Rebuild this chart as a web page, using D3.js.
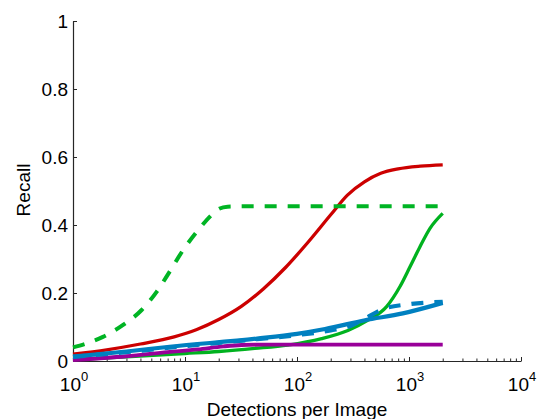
<!DOCTYPE html>
<html>
<head>
<meta charset="utf-8">
<script src="https://cdn.jsdelivr.net/npm/d3@7"></script>
<style>
  html, body { margin: 0; padding: 0; background: #fff; }
  svg { display: block; font-family: "Liberation Sans", Arial, Helvetica, sans-serif; }
</style>
</head>
<body>
<svg id="chart" width="538" height="419"></svg>
<script>
// Recall vs. detections per image, one array of [detections, recall] per method
const redSolid = [[1,0.02],[2,0.033],[4,0.05],[8,0.071],[12.6,0.092],[20,0.122],[31.6,0.16],[50,0.212],[79,0.275],[126,0.35],[200,0.43],[282,0.488],[400,0.527],[560,0.552],[800,0.565],[1260,0.573],[2000,0.577]];
const greenDashed = [[1,0.04],[1.5,0.058],[1.85,0.071],[2.8,0.106],[4.1,0.15],[5.6,0.204],[7.3,0.263],[9.6,0.326],[13.1,0.385],[17.3,0.43],[19.5,0.445],[24,0.454],[40,0.455],[2000,0.455]];
const greenSolid = [[1,0.004],[3,0.012],[10,0.022],[20,0.028],[42,0.037],[83,0.047],[166,0.066],[285,0.09],[431,0.12],[631,0.16],[831,0.219],[1021,0.277],[1253,0.336],[1540,0.39],[2000,0.434]];
const purpleSolid = [[1,0.003],[3,0.014],[7,0.026],[13,0.034],[22,0.043],[32,0.047],[50,0.048],[2000,0.048]];
const blueDashed = [[1,0.012],[3,0.026],[10,0.044],[44,0.064],[100,0.076],[200,0.09],[300,0.103],[400,0.124],[600,0.154],[1000,0.167],[2000,0.174]];
const blueSolid = [[1,0.013],[3,0.028],[7.3,0.042],[44,0.066],[100,0.08],[178,0.094],[405,0.12],[880,0.14],[2000,0.171]];

const xTickValues = [1, 10, 100, 1000, 10000];
const xTickExponents = ["0", "1", "2", "3", "4"];
const yTickValues = [0, 0.2, 0.4, 0.6, 0.8, 1];
const yTickLabels = ["0", "0.2", "0.4", "0.6", "0.8", "1"];

const svg = d3.select("#chart");
const x = d3.scaleLog().domain([1, 10000]).range([73, 521]);
const y = d3.scaleLinear().domain([0, 1]).range([361, 21]);

const axisColor = "#262626";

// minor log ticks: 2..9 within each decade
const minorTicks = [];
xTickValues.slice(0, -1).forEach(d => d3.range(2, 10).forEach(k => minorTicks.push(d * k)));

const xAxis = svg.append("g")
  .attr("transform", `translate(0,${y(0)})`)
  .call(d3.axisBottom(x).tickValues(xTickValues).tickSizeInner(-4).tickSizeOuter(0).tickFormat(""));
xAxis.select(".domain").attr("stroke", axisColor).attr("stroke-width", 1.2);
xAxis.selectAll(".tick line").attr("stroke", axisColor);

const xMinor = svg.append("g")
  .attr("transform", `translate(0,${y(0)})`)
  .call(d3.axisBottom(x).tickValues(minorTicks).tickSizeInner(-2.5).tickSizeOuter(0).tickFormat(""));
xMinor.select(".domain").remove();
xMinor.selectAll(".tick line").attr("stroke", axisColor);

const yAxis = svg.append("g")
  .attr("transform", `translate(${x(1)},0)`)
  .call(d3.axisLeft(y).tickValues(yTickValues).tickSizeInner(-4).tickSizeOuter(0).tickFormat(""));
yAxis.select(".domain").attr("stroke", axisColor).attr("stroke-width", 1.2);
yAxis.selectAll(".tick line").attr("stroke", axisColor);

// y tick labels
svg.append("g").selectAll("text")
  .data(yTickValues)
  .join("text")
  .attr("x", 68)
  .attr("y", d => y(d))
  .attr("dy", "0.35em")
  .attr("text-anchor", "end")
  .attr("font-size", 19)
  .attr("fill", "#000")
  .text((d, i) => yTickLabels[i]);

// x tick labels: 10 with a superscript exponent
const xl = svg.append("g").selectAll("text")
  .data(xTickValues)
  .join("text")
  .attr("x", d => x(d) + 1)
  .attr("y", 391)
  .attr("text-anchor", "middle")
  .attr("font-size", 19)
  .attr("fill", "#000");
xl.append("tspan").text("10");
xl.append("tspan").attr("font-size", 13).attr("dy", -10).text((d, i) => xTickExponents[i]);

// axis titles
svg.append("text")
  .attr("x", 297).attr("y", 415.5)
  .attr("text-anchor", "middle")
  .attr("font-size", 19)
  .text("Detections per Image");
svg.append("text")
  .attr("transform", "translate(30,190) rotate(-90)")
  .attr("text-anchor", "middle")
  .attr("font-size", 19)
  .text("Recall");

const line = d3.line()
  .x(d => x(d[0]))
  .y(d => y(d[1]))
  .curve(d3.curveMonotoneX);

const series = [
  { data: redSolid, color: "#cc0000", width: 3.3, dash: null },
  { data: greenDashed, color: "#00b424", width: 4, dash: "12,11" },
  { data: greenSolid, color: "#00b21f", width: 3.3, dash: null },
  { data: purpleSolid, color: "#990099", width: 3.8, dash: null },
  { data: blueDashed, color: "#0080c0", width: 4.2, dash: "12,11" },
  { data: blueSolid, color: "#0080c0", width: 4.2, dash: null }
];

svg.append("g").selectAll("path")
  .data(series)
  .join("path")
  .attr("d", d => line(d.data))
  .attr("fill", "none")
  .attr("stroke", d => d.color)
  .attr("stroke-width", d => d.width)
  .attr("stroke-dasharray", d => d.dash)
  .attr("stroke-linejoin", "round");
</script>
</body>
</html>
